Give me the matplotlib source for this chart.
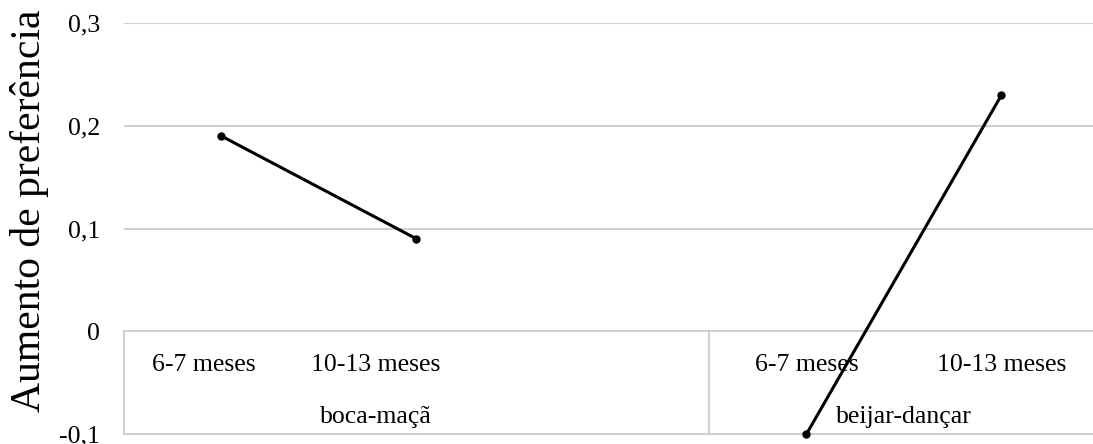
import matplotlib
matplotlib.use("Agg")
import matplotlib.pyplot as plt

# Dados do gráfico
grupos = ['boca-maçã', 'beijar-dançar']
idades = ['6-7 meses', '10-13 meses']
valores_boca = [0.19, 0.09]
valores_beijar = [-0.10, 0.23]
ticks_y = [-0.1, 0.0, 0.1, 0.2, 0.3]
rotulo_y = 'Aumento de preferência'

plt.rcParams['font.family'] = ['Liberation Serif', 'DejaVu Serif']

fig = plt.figure(figsize=(10.93, 4.44), dpi=100)
ax = fig.add_axes([0.1134, 0.0225, 0.8866, 0.9255])

# posições das categorias (grupo 1 ocupa 3 vagas, grupo 2 ocupa 2)
x_boca = [0.5, 1.5]
x_beijar = [3.5, 4.5]
separador = 3.0

cor_grade = '#d0d0d0'
for y in ticks_y[2:]:
    ax.axhline(y, color=cor_grade, lw=1.5, zorder=1)

# caixa do eixo de categorias
ax.axhline(0, color=cor_grade, lw=1.5, zorder=1)
ax.axhline(-0.1, color=cor_grade, lw=1.5, zorder=1, clip_on=False)
ax.plot([0, 0], [-0.1, 0], color=cor_grade, lw=1.5, zorder=1, clip_on=False)
ax.plot([separador, separador], [-0.1, 0], color=cor_grade, lw=1.5, zorder=1)

ax.plot(x_boca, valores_boca, color='black', lw=2.2, marker='o', ms=5, zorder=3)
ax.plot(x_beijar, valores_beijar, color='black', lw=2.2, marker='o', ms=5,
        zorder=3, clip_on=False)

# rótulos das categorias
fs = 18.5
pos_idades = [[0.41, 1.29], [3.5, 4.5]]
pos_grupos = [1.29, 4.0]
for g, nome in enumerate(grupos):
    for xi, txt in zip(pos_idades[g], idades):
        ax.text(xi, -0.033, txt, ha='center', va='center', fontsize=fs, zorder=2)
    ax.text(pos_grupos[g], -0.083, nome, ha='center', va='center', fontsize=fs, zorder=2)

ax.set_xlim(0, 969 / 195)
ax.set_ylim(-0.1, 0.3)
ax.set_xticks([])
ax.set_yticks(ticks_y)
ax.set_yticklabels([('%.1f' % v).replace('.', ',') if v != 0 else '0' for v in ticks_y],
                   fontsize=fs)
ax.tick_params(axis='y', length=0, pad=17)
for s in ax.spines.values():
    s.set_visible(False)

fig.text(30 / 1093, 0.525, rotulo_y, rotation=90, ha='center', va='center', fontsize=30)

fig.savefig('out.png', dpi=100)
